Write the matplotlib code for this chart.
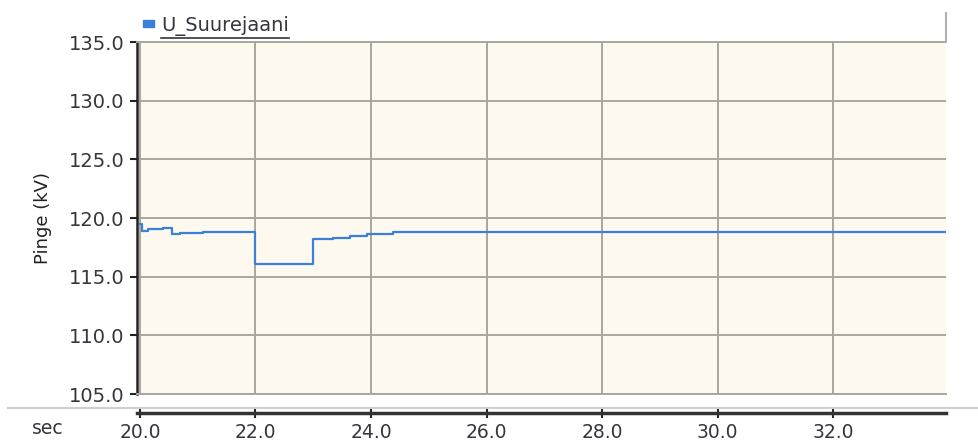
import matplotlib
matplotlib.use("Agg")
import matplotlib.pyplot as plt
from matplotlib.lines import Line2D

# pinge U_Suurejaani (kV) vs aeg (s), astmeline
t_sec = [20.0, 20.03, 20.14, 20.40, 20.55, 20.69, 21.09, 22.0, 23.0, 23.34, 23.64, 23.93, 24.38, 33.95]
u_kv = [119.5, 118.9, 119.05, 119.15, 118.6, 118.7, 118.8, 116.1, 118.2, 118.3, 118.45, 118.6, 118.8, 118.8]

x_ticks = [20.0, 22.0, 24.0, 26.0, 28.0, 30.0, 32.0]
y_ticks = [105.0, 110.0, 115.0, 120.0, 125.0, 130.0, 135.0]
series_name = "U_Suurejaani"

W, H = 979, 446
txt_col = "#35343f"
grid_col = "#aaa69e"
line_col = "#3a7fd8"

fig = plt.figure(figsize=(W / 100, H / 100), dpi=100)
fig.patch.set_facecolor("white")

def fx(px):
    return px / W

def fy(py):
    return 1 - py / H

x0, x1 = 137, 946
y0, y1 = 42, 394
ax = fig.add_axes([fx(x0), fy(y1), fx(x1 - x0), fy(y0) - fy(y1)])
ax.set_facecolor("#fef9ee")
ax.plot(t_sec, u_kv, drawstyle="steps-post", color=line_col, lw=1.6, zorder=3)
ax.set_xlim(19.95, 33.95)
ax.set_ylim(105, 135)
ax.set_xticks(x_ticks)
ax.set_yticks(y_ticks)
ax.grid(True, color=grid_col, lw=1.4)
ax.tick_params(axis="x", bottom=False, labelbottom=False)
ax.tick_params(axis="y", direction="out", length=5, width=1.5, color="#222222",
               labelsize=14, labelcolor=txt_col, pad=4)
ax.set_yticklabels([f"{v:.1f}" for v in y_ticks])
for side in ("top", "bottom"):
    ax.spines[side].set_color(grid_col)
    ax.spines[side].set_linewidth(1.4)
ax.spines["right"].set_visible(False)
ax.spines["left"].set_color("#222222")
ax.spines["left"].set_linewidth(1.8)
ax.set_ylabel("Pinge (kV)", fontsize=13, color="#222222", labelpad=12)

# eraldi x-telje riba
axx = fig.add_axes([fx(x0), fy(413), fx(x1 - x0), 0.0001])
axx.set_xlim(ax.get_xlim())
axx.set_facecolor("none")
axx.set_yticks([])
axx.set_xticks(x_ticks)
axx.set_xticklabels([f"{v:.1f}" for v in x_ticks])
for side in ("top", "right", "left"):
    axx.spines[side].set_visible(False)
axx.spines["bottom"].set_color("#333333")
axx.spines["bottom"].set_linewidth(2.5)
axx.tick_params(axis="x", direction="inout", length=7, width=1.5, color="#222222",
                labelsize=13.5, labelcolor=txt_col, pad=4)
fig.text(fx(48), fy(428), "sec", fontsize=13.5, color=txt_col, ha="center", va="center")

# eraldusjoon ja legendi paneel
fig.add_artist(Line2D([fx(8), 1], [fy(408), fy(408)], color="#cfcfcf", lw=1.5))
fig.add_artist(Line2D([fx(946), fx(946)], [fy(13), fy(42)], color="#b0b0b0", lw=1.5))
fig.add_artist(plt.Rectangle((fx(143), fy(27)), fx(11), fy(20) - fy(27),
                             color=line_col, transform=fig.transFigure))
leg = fig.text(fx(161), fy(26), series_name, fontsize=14, color=txt_col,
               ha="left", va="center")
fig.canvas.draw()
bb = leg.get_window_extent().transformed(fig.transFigure.inverted())
fig.add_artist(Line2D([bb.x0, bb.x1], [fy(37.5), fy(37.5)], color=txt_col, lw=1.2))

fig.savefig("out.png", dpi=100)
